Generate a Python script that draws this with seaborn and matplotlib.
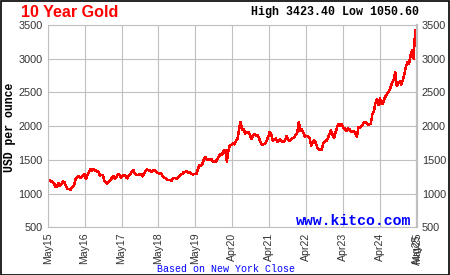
import numpy as np
import pandas as pd
import matplotlib
matplotlib.use("Agg")
import matplotlib.pyplot as plt
import seaborn as sns
from matplotlib.patches import Rectangle

# semi-monthly gold prices (USD/oz), May 2015 .. Apr 2025
g2015 = [1190, 1205, 1180, 1175, 1160, 1095, 1100, 1155, 1120, 1140, 1185, 1165, 1105, 1070, 1070, 1060]
g2016 = [1090, 1110, 1200, 1245, 1260, 1240, 1240, 1275, 1290, 1220, 1275, 1320, 1360, 1340, 1365, 1345,
         1330, 1335, 1270, 1275, 1275, 1195, 1160, 1150]
g2017 = [1185, 1200, 1235, 1255, 1220, 1250, 1290, 1270, 1235, 1265, 1275, 1250, 1225, 1265, 1285, 1325,
         1350, 1290, 1280, 1275, 1285, 1290, 1255, 1305]
g2018 = [1335, 1360, 1340, 1340, 1325, 1345, 1340, 1320, 1305, 1295, 1300, 1260, 1240, 1225, 1200, 1205,
         1200, 1195, 1230, 1235, 1220, 1230, 1255, 1285]
g2019 = [1295, 1320, 1320, 1335, 1305, 1310, 1295, 1285, 1290, 1290, 1350, 1420, 1415, 1440, 1510, 1545,
         1505, 1510, 1495, 1510, 1470, 1470, 1480, 1520]
g2020 = [1560, 1585, 1580, 1645, 1650, 1475, 1640, 1720, 1720, 1740, 1730, 1780, 1810, 1960, 2065, 1950,
         1960, 1890, 1910, 1910, 1885, 1810, 1860, 1885]
g2021 = [1855, 1865, 1825, 1765, 1720, 1735, 1745, 1785, 1840, 1915, 1880, 1785, 1810, 1815, 1765, 1795,
         1800, 1765, 1765, 1785, 1855, 1795, 1785, 1810]
g2022 = [1820, 1840, 1870, 1905, 2065, 1935, 1955, 1900, 1845, 1855, 1850, 1830, 1715, 1745, 1790, 1755,
         1690, 1650, 1665, 1650, 1745, 1765, 1785, 1815]
g2023 = [1885, 1935, 1875, 1820, 1905, 1985, 2030, 2000, 2035, 1970, 1965, 1925, 1965, 1955, 1915, 1925,
         1930, 1880, 1845, 1985, 1975, 2005, 2035, 2065]
g2024 = [2045, 2025, 2025, 2035, 2170, 2215, 2340, 2395, 2315, 2415, 2330, 2340, 2410, 2460, 2490, 2520,
         2580, 2650, 2690, 2800, 2600, 2630, 2660, 2615]
g2025 = [2690, 2780, 2890, 2950, 2930, 3050, 3130, 3000, 3425, 3260]

x_tick_labels = ["May15", "May16", "May17", "May18", "May19", "Apr20",
                 "Apr21", "Apr22", "Apr23", "Apr24", "May25"]
last_label = "Aug25"
y_ticks = [500, 1000, 1500, 2000, 2500, 3000, 3500]

price = g2015 + g2016 + g2017 + g2018 + g2019 + g2020 + g2021 + g2022 + g2023 + g2024 + g2025
span = len(x_tick_labels) - 1
t = np.linspace(0, span, len(price))
df = pd.DataFrame({"t": t, "price": price})

sns.set_style("white")
plt.rcParams["font.family"] = ["Liberation Sans", "DejaVu Sans"]

W, H = 450, 275
fig = plt.figure(figsize=(W / 100, H / 100), dpi=100)
fig.patch.set_facecolor("white")
L, R, T, B = 47.7, 416.7, 25.0, 227.3
ax = fig.add_axes([L / W, (H - B) / H, (R - L) / W, (B - T) / H])

sns.lineplot(data=df, x="t", y="price", ax=ax, color="#ff0000", lw=1.05, antialiased=False)

ax.set_xlim(0, span)
ax.set_ylim(500, 3500)
ax.set_xticks(range(span + 1))
ax.set_xticklabels(x_tick_labels, rotation=90, fontsize=7.6, color="#333333")
ax.set_yticks(y_ticks)
ax.set_yticklabels([str(v) for v in y_ticks], fontsize=7.8, color="#333333")
ax.tick_params(axis="y", length=0, pad=3.6, labelleft=True, labelright=True)
ax.tick_params(axis="x", length=0, pad=3.8)
ax.set_xlabel("")
ax.set_ylabel("")
ax.grid(True, color="#c0c0c0", lw=0.8)
ax.set_axisbelow(True)
for side, sp in ax.spines.items():
    sp.set_color("#c0c0c0")
    sp.set_linewidth(0.8)
ax.spines["right"].set_linewidth(1.6)

# overlapping final label, as in the reference
ax.text(span, -0.035, last_label, transform=ax.get_xaxis_transform(), rotation=90,
        ha="center", va="top", fontsize=7.6, color="#333333")

mono = ["Liberation Mono", "DejaVu Sans Mono"]
fig.text(20.7 / W, 1 - 17.3 / H, "10 Year Gold", color="#ff0000", fontsize=11.6,
         fontweight="bold", ha="left", va="baseline")
fig.text(419.3 / W, 1 - 15.2 / H, "High 3423.40 Low 1050.60", color="black", fontsize=8.4,
         fontweight="bold", family=mono, ha="right", va="baseline")
fig.text(10 / W, 1 - 127 / H, "USD per ounce", color="black", fontsize=8.3, fontweight="bold",
         family=mono, rotation=90, ha="center", va="center")
fig.text(411 / W, 1 - 225.3 / H, "www.kitco.com", color="#0000ff", fontsize=10.7,
         fontweight="bold", family=mono, ha="right", va="baseline")
fig.text(226 / W, 1 - 269 / H, "Based on New York Close", color="#0000ff", fontsize=7.2,
         family=mono, ha="center", va="center")

fig.add_artist(Rectangle((0.5 / W, 0.5 / H), (W - 1.5) / W, (H - 1.5) / H, transform=fig.transFigure,
                         fill=False, edgecolor="black", lw=1.2))

fig.savefig("out.png", dpi=100, facecolor="white")
